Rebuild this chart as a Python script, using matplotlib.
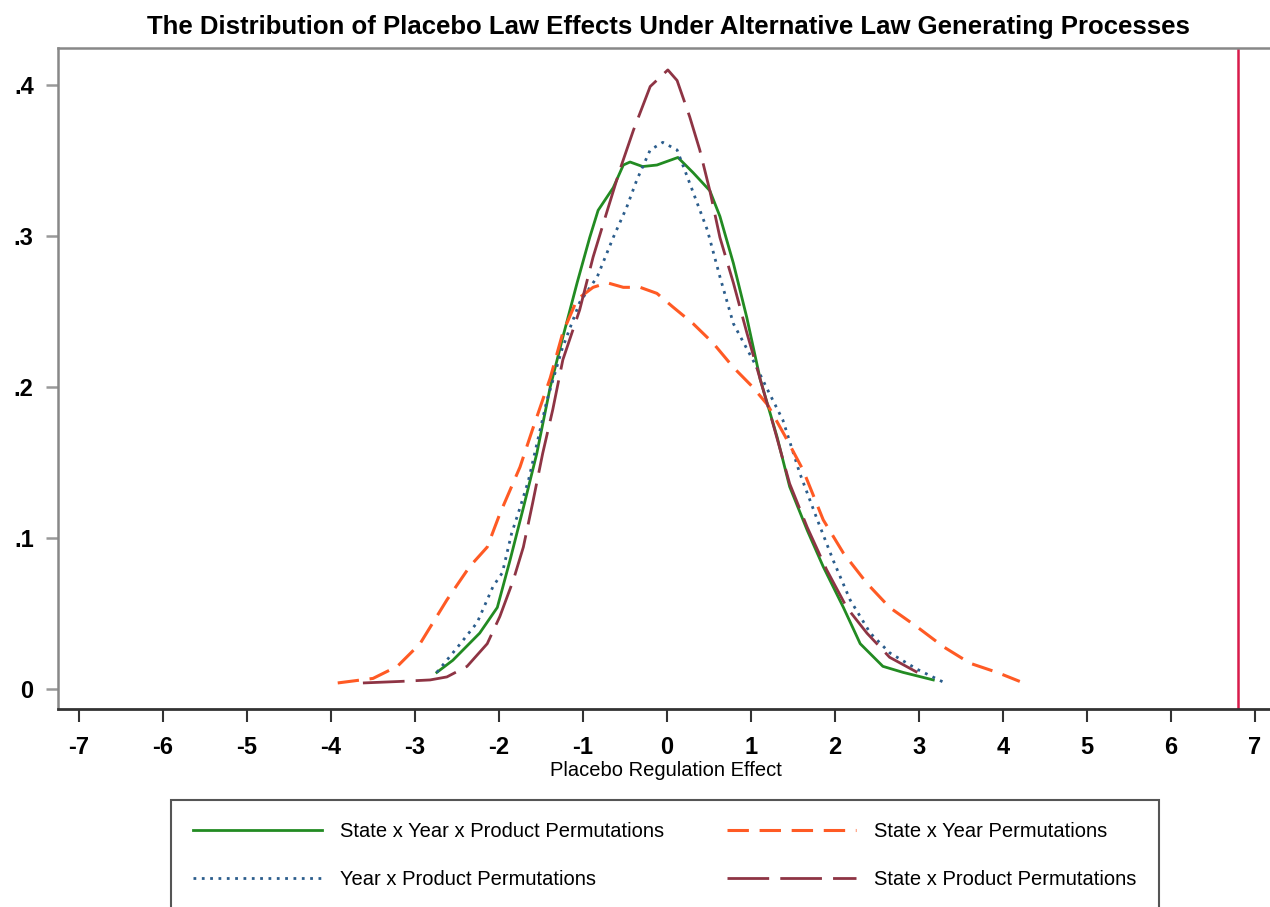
import matplotlib
matplotlib.use('Agg')
import matplotlib.pyplot as plt

plt.rcParams['font.family'] = ['Liberation Sans', 'DejaVu Sans']

# State x Year x Product permutations (green, solid)
sxyp_x = [-2.74, -2.55, -2.23, -2.02, -1.87, -1.71, -1.55, -1.39, -1.24, -1.07, -0.92, -0.82,
          -0.64, -0.52, -0.44, -0.29, -0.12, 0.13, 0.31, 0.51, 0.63, 0.79, 0.95, 1.11, 1.31,
          1.46, 1.67, 1.86, 2.10, 2.30, 2.57, 2.81, 3.17]
sxyp_y = [0.011, 0.019, 0.037, 0.054, 0.085, 0.120, 0.156, 0.200, 0.233, 0.269, 0.299, 0.317,
          0.332, 0.347, 0.349, 0.346, 0.347, 0.352, 0.342, 0.330, 0.313, 0.282, 0.246, 0.205, 0.167,
          0.134, 0.105, 0.081, 0.054, 0.030, 0.015, 0.011, 0.006]

# Year x Product permutations (blue, dotted)
yp_x = [-2.74, -2.46, -2.26, -2.07, -1.96, -1.85, -1.75, -1.65, -1.43, -1.25, -1.04, -0.83,
        -0.64, -0.48, -0.36, -0.20, -0.05, 0.12, 0.27, 0.48, 0.63, 0.79, 1.05, 1.19, 1.38,
        1.58, 1.79, 1.98, 2.18, 2.42, 2.65, 2.98, 3.31]
yp_y = [0.011, 0.030, 0.044, 0.068, 0.077, 0.103, 0.120, 0.138, 0.191, 0.225, 0.256, 0.273,
        0.299, 0.319, 0.337, 0.357, 0.362, 0.357, 0.335, 0.304, 0.273, 0.242, 0.215, 0.199, 0.178,
        0.143, 0.112, 0.085, 0.059, 0.037, 0.024, 0.013, 0.004]

# State x Year permutations (orange, dashed)
sy_x = [-3.92, -3.50, -3.21, -2.94, -2.62, -2.35, -2.14, -1.99, -1.75, -1.60, -1.39, -1.24,
        -1.07, -0.88, -0.71, -0.52, -0.32, -0.12, 0.07, 0.31, 0.55, 0.79, 1.02, 1.20, 1.40,
        1.62, 1.86, 2.10, 2.38, 2.65, 2.98, 3.29, 3.61, 3.93, 4.20]
sy_y = [0.004, 0.007, 0.015, 0.030, 0.059, 0.081, 0.094, 0.116, 0.147, 0.172, 0.206, 0.236,
        0.258, 0.266, 0.269, 0.266, 0.266, 0.262, 0.253, 0.242, 0.229, 0.213, 0.200, 0.188, 0.168,
        0.145, 0.112, 0.090, 0.070, 0.054, 0.041, 0.028, 0.017, 0.011, 0.005]

# State x Product permutations (maroon, long dash)
sp_x = [-3.62, -3.18, -2.82, -2.62, -2.38, -2.14, -1.99, -1.83, -1.71, -1.60, -1.48, -1.36,
        -1.24, -1.04, -0.88, -0.71, -0.56, -0.40, -0.20, 0.01, 0.12, 0.27, 0.39, 0.51, 0.63,
        0.79, 0.95, 1.11, 1.26, 1.46, 1.67, 1.90, 2.14, 2.38, 2.65, 2.98]
sp_y = [0.004, 0.005, 0.006, 0.008, 0.015, 0.030, 0.048, 0.072, 0.094, 0.123, 0.156, 0.185,
        0.218, 0.251, 0.286, 0.317, 0.344, 0.370, 0.399, 0.410, 0.403, 0.379, 0.357, 0.330, 0.299,
        0.269, 0.236, 0.205, 0.176, 0.136, 0.107, 0.079, 0.054, 0.037, 0.021, 0.011]

actual_effect = 6.8

x_ticks = list(range(-7, 8))
y_ticks = [0, 0.1, 0.2, 0.3, 0.4]
y_labels = ['0', '.1', '.2', '.3', '.4']

fig = plt.figure(figsize=(12.7, 9.07), dpi=100)
ax = fig.add_axes([58 / 1270, 1 - 709 / 907, (1297 - 58) / 1270, (709 - 48) / 907])

l1, = ax.plot(sxyp_x, sxyp_y, color='#228b22', lw=2.0, label='State x Year x Product Permutations')
l2, = ax.plot(yp_x, yp_y, color='#2b5d8c', lw=2.0, dashes=(1, 2), label='Year x Product Permutations')
l3, = ax.plot(sy_x, sy_y, color='#ff5a24', lw=2.2, dashes=(7, 3.5), label='State x Year Permutations')
l4, = ax.plot(sp_x, sp_y, color='#8e3444', lw=2.0, dashes=(15, 4), label='State x Product Permutations')
ax.axvline(actual_effect, color='#d81b4a', lw=1.8)

ax.set_xlim(-7.25, 7.5)
ax.set_ylim(-0.01325, 0.4245)
ax.set_xticks(x_ticks)
ax.set_xticklabels([str(t) for t in x_ticks], fontsize=17, fontweight='bold')
ax.set_yticks(y_ticks)
ax.set_yticklabels(y_labels, fontsize=17, fontweight='bold')
ax.tick_params(axis='x', length=9.5, width=1.5, color='#333333', pad=10)
ax.tick_params(axis='y', length=8.5, width=1.8, color='#999999', pad=9)

for s in ['left', 'top']:
    ax.spines[s].set_color('#888888')
    ax.spines[s].set_linewidth(1.8)
ax.spines['bottom'].set_color('#333333')
ax.spines['bottom'].set_linewidth(2.0)
ax.spines['right'].set_visible(False)

fig.text(668 / 1270, 1 - 27 / 907,
         'The Distribution of Placebo Law Effects Under Alternative Law Generating Processes',
         ha='center', va='center', fontsize=18.5, fontweight='bold')
fig.text(666 / 1270, 1 - 770 / 907, 'Placebo Regulation Effect', ha='center', va='center', fontsize=14.5)

leg = fig.legend(handles=[l1, l2, l3, l4], ncol=2, loc='upper left', mode='expand',
                 bbox_to_anchor=(161 / 1270, 1 - 790 / 907, 1008 / 1270, 0.0),
                 fontsize=14.5, handlelength=6.4, handletextpad=0.9, labelspacing=1.44,
                 borderpad=1.1, fancybox=False, framealpha=1)
leg.get_frame().set_edgecolor('#555555')
leg.get_frame().set_linewidth(1.5)

fig.savefig('out.png', dpi=100)
